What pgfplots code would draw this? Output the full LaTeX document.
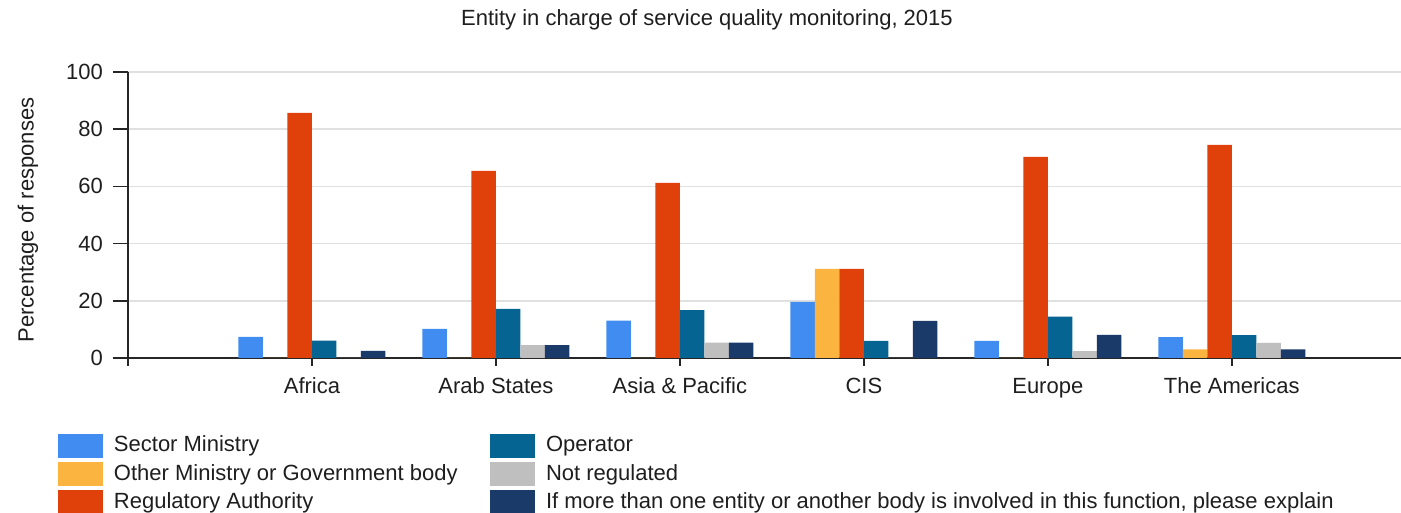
\documentclass[border=0pt]{standalone}
\usepackage{pgfplots}
\pgfplotsset{compat=1.18}
\usepackage{fontspec}
\setmainfont{Liberation Sans}
\definecolor{cSM}{HTML}{418CF0}
\definecolor{cOM}{HTML}{FCB441}
\definecolor{cRA}{HTML}{E0400A}
\definecolor{cOP}{HTML}{056492}
\definecolor{cNR}{HTML}{BFBFBF}
\definecolor{cIM}{HTML}{1A3B69}
\definecolor{txt}{HTML}{1E1E1E}
\pgfplotsset{
  mybar/.style={ybar, bar width=24.5pt, draw=none,
    legend image code/.code={\path[##1, draw=none] (0pt,-1.5pt) rectangle (45pt,16.5pt); \path (0pt,-6pt) rectangle (45pt,18pt);}},
}
\begin{document}
\begin{tikzpicture}[font=\fontsize{22}{26}\selectfont, text=txt]
\begin{axis}[
  at={(128pt,155pt)}, anchor=south west, scale only axis,
  width=1273pt, height=286pt,
  xmin=0, xmax=6.92, ymin=0, ymax=100,
  axis lines=left, axis line style={-, line width=1.6pt, color=black!85},
  ytick={0,20,40,60,80,100},
  xtick={0,1,2,3,4,5,6},
  xticklabels={,Africa,Arab States,Asia \& Pacific,CIS,Europe,The Americas},
  ymajorgrids, grid style={line width=1.6pt, color=black!12},
  tick align=outside, major tick length=15pt,
  tick style={line width=1.6pt, color=black!85},
  xtick style={/pgfplots/major tick length=8pt},
  /pgf/number format/assume math mode=true,
  yticklabel style={inner sep=0pt, xshift=-10pt},
  xticklabel style={inner sep=0pt, text height=16pt, text depth=5pt, yshift=-4pt},
  title={Entity in charge of service quality monitoring, 2015},
  title style={at={(axis description cs:0.4548,1.1433)}, anchor=base, inner sep=0pt},
  ylabel={Percentage of responses},
  ylabel style={at={(axis description cs:-0.0785,0.4825)}, anchor=center, inner sep=0pt},
  legend columns=2,
  legend cell align=left,
  legend style={draw=none, fill=none, inner sep=0pt, outer sep=0pt,
    at={(axis description cs:-0.05499,-0.2647)}, anchor=north west,
    column sep=11pt, row sep=4.3pt,
    nodes={inner sep=0pt, text height=18pt, text depth=6pt, anchor=base west},
    /tikz/every even column/.append style={column sep=32.5pt}},
]
\addplot[mybar, fill=cSM, bar shift=-61.25pt] coordinates {(1,7.4) (2,10.2) (3,13.1) (4,19.6) (5,6.0) (6,7.3)};
\addlegendentry{Sector Ministry}
\addplot[mybar, fill=cOP, bar shift=12.25pt] coordinates {(1,6.1) (2,17.2) (3,16.7) (4,6.0) (5,14.5) (6,8.0)};
\addlegendentry{Operator}
\addplot[mybar, fill=cOM, bar shift=-36.75pt] coordinates {(1,0) (2,0) (3,0) (4,31.2) (5,0) (6,3.0)};
\addlegendentry{Other Ministry or Government body}
\addplot[mybar, fill=cNR, bar shift=36.75pt] coordinates {(1,0) (2,4.5) (3,5.4) (4,0) (5,2.4) (6,5.3)};
\addlegendentry{Not regulated}
\addplot[mybar, fill=cRA, bar shift=-12.25pt] coordinates {(1,85.7) (2,65.4) (3,61.2) (4,31.2) (5,70.3) (6,74.5)};
\addlegendentry{Regulatory Authority}
\addplot[mybar, fill=cIM, bar shift=61.25pt] coordinates {(1,2.5) (2,4.5) (3,5.4) (4,13.0) (5,8.1) (6,3.0)};
\addlegendentry{If more than one entity or another body is involved in this function, please explain}
\end{axis}
\pgfresetboundingbox
\useasboundingbox (0,0) rectangle (1401pt,513pt);
\end{tikzpicture}
\end{document}
